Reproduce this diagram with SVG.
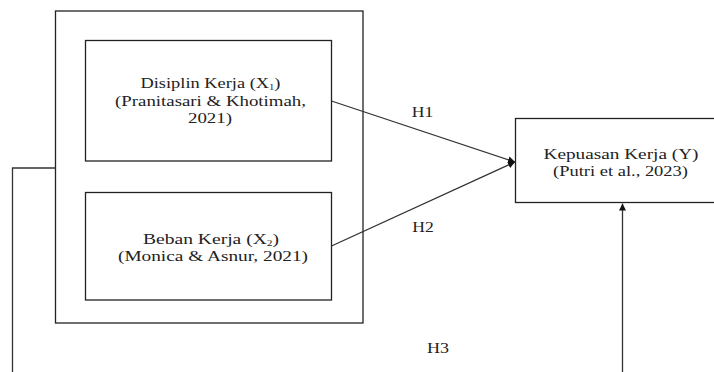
<svg xmlns="http://www.w3.org/2000/svg" width="714" height="372" viewBox="0 0 714 372">
<defs>
<style>
.box{fill:#fff;stroke:#222;stroke-width:1.3}
.ln{fill:none;stroke:#333;stroke-width:1.3}
.t{font-family:'Liberation Serif','Times New Roman',Times,serif;font-size:15.5px;fill:#222;text-anchor:middle}
.sub{font-size:9px}
</style>
<marker id="ah" viewBox="0 0 10 10" refX="10" refY="5" markerWidth="7" markerHeight="7" orient="auto" markerUnits="userSpaceOnUse">
<path d="M0,0 L10,5 L0,10 z" fill="#111"/>
</marker>
</defs>
<rect width="714" height="372" fill="#fff"/>
<g id="outer"><rect class="box" x="55.5" y="11" width="307.5" height="312"/></g>
<g id="x1" class="t">
<rect class="box" x="85.5" y="40.5" width="246" height="120.5"/>
<text x="210.5" y="88" textLength="140" lengthAdjust="spacingAndGlyphs">Disiplin Kerja (X<tspan class="sub" dy="2">1</tspan><tspan dy="-2">)</tspan></text>
<text x="210.5" y="105.5" textLength="191" lengthAdjust="spacingAndGlyphs">(Pranitasari &amp; Khotimah,</text>
<text x="210" y="123" textLength="44" lengthAdjust="spacingAndGlyphs">2021)</text>
</g>
<g id="x2" class="t">
<rect class="box" x="85.5" y="192.5" width="246" height="107.5"/>
<text x="211" y="244" textLength="136" lengthAdjust="spacingAndGlyphs">Beban Kerja (X<tspan class="sub" dy="2">2</tspan><tspan dy="-2">)</tspan></text>
<text x="213" y="261" textLength="190" lengthAdjust="spacingAndGlyphs">(Monica &amp; Asnur, 2021)</text>
</g>
<g id="y" class="t">
<rect class="box" x="515.5" y="118.5" width="210" height="84"/>
<text x="621" y="158.5" textLength="155" lengthAdjust="spacingAndGlyphs">Kepuasan Kerja (Y)</text>
<text x="620.5" y="176" textLength="135" lengthAdjust="spacingAndGlyphs">(Putri et al., 2023)</text>
</g>
<g id="connectors">
<line class="ln" x1="331.5" y1="101" x2="515" y2="162" marker-end="url(#ah)"/>
<line class="ln" x1="331.5" y1="246" x2="515" y2="162" marker-end="url(#ah)"/>
<polyline class="ln" points="55.5,168 12.5,168 12.5,372"/>
<line class="ln" x1="622.5" y1="372" x2="622.5" y2="203.5" marker-end="url(#ah)"/>
<g class="t">
<text x="422.5" y="116.5" textLength="21.5" lengthAdjust="spacingAndGlyphs">H1</text>
<text x="423" y="232" textLength="21.5" lengthAdjust="spacingAndGlyphs">H2</text>
<text x="438" y="353" textLength="22" lengthAdjust="spacingAndGlyphs">H3</text>
</g>
</g>
</svg>
